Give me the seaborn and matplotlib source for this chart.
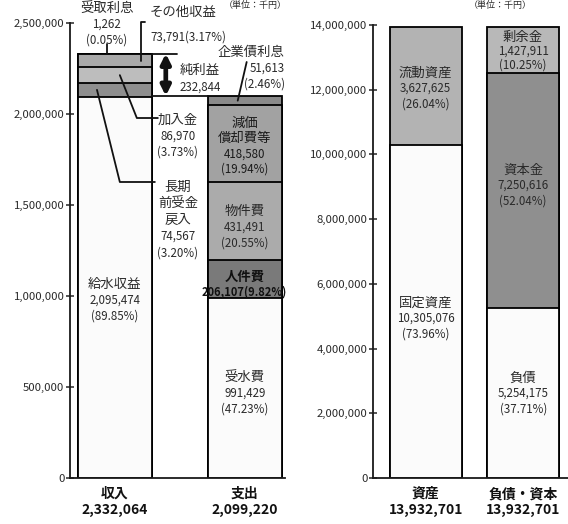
import matplotlib
matplotlib.use("Agg")
import matplotlib.pyplot as plt
from matplotlib.ticker import FuncFormatter
import seaborn as sns
import pandas as pd

sns.set_theme(style="white")
plt.rcParams["font.family"] = ["Noto Sans CJK JP", "DejaVu Sans"]

# 収益的収支（単位：千円）
flow_cats = ["収入", "支出"]
income_items = ["給水収益", "長期前受金戻入", "加入金", "その他収益", "受取利息"]
income_values = [2095474, 74567, 86970, 73791, 1262]
income_pcts = [89.85, 3.20, 3.73, 3.17, 0.05]

expense_items = ["受水費", "人件費", "物件費", "減価償却費等", "企業債利息"]
expense_values = [991429, 206107, 431491, 418580, 51613]
expense_pcts = [47.23, 9.82, 20.55, 19.94, 2.46]

# 貸借対照表（単位：千円）
stock_cats = ["資産", "負債・資本"]
asset_items = ["固定資産", "流動資産"]
asset_values = [10305076, 3627625]
asset_pcts = [73.96, 26.04]

liab_items = ["負債", "資本金", "剰余金"]
liab_values = [5254175, 7250616, 1427911]
liab_pcts = [37.71, 52.04, 10.25]
stock_totals = [13932701, 13932701]

flow_ticks = [0, 500000, 1000000, 1500000, 2000000, 2500000]
stock_ticks = [0, 2000000, 4000000, 6000000, 8000000, 10000000, 12000000, 14000000]

FILL = {
    "給水収益": "#fbfbfb", "長期前受金戻入": "#8e8e8e", "加入金": "#bdbdbd",
    "その他収益": "#a9a9a9", "受取利息": "#b5b5b5",
    "受水費": "#fbfbfb", "人件費": "#7a7a7a", "物件費": "#ababab",
    "減価償却費等": "#a2a2a2", "企業債利息": "#8a8a8a",
    "固定資産": "#fbfbfb", "流動資産": "#b3b3b3",
    "負債": "#fbfbfb", "資本金": "#8f8f8f", "剰余金": "#b8b8b8",
}
INK = "#2a2a2a"


def stacked(ax, cat, items, values, order, width):
    """Stack segments by overdrawing cumulative bars from the top down."""
    df = pd.DataFrame({"区分": cat, "項目": items, "金額": values})
    df["累計"] = df["金額"].cumsum()
    df["下端"] = df["累計"] - df["金額"]
    df["中央"] = df["下端"] + df["金額"] / 2
    for _, row in df.iloc[::-1].iterrows():
        sns.barplot(x=[row["区分"]], y=[row["累計"]], order=order,
                    color=FILL[row["項目"]], saturation=1, width=width,
                    edgecolor="black", linewidth=1.3, errorbar=None, ax=ax)
    return df.set_index("項目")


def block(ax, x, y, lines, sizes, step=11.6, color=INK, weight="normal"):
    n = len(lines)
    for i, (s, fs) in enumerate(zip(lines, sizes)):
        ax.annotate(s, (x, y), xytext=(0, -(i - (n - 1) / 2) * step),
                    textcoords="offset points", ha="center", va="center",
                    fontsize=fs, color=color, fontweight=weight,
                    annotation_clip=False)


def style_axis(ax, ticks, ymax, xlim, cats, totals):
    ax.set_ylim(0, ymax)
    ax.set_xlim(*xlim)
    ax.set_yticks(ticks)
    ax.yaxis.set_major_formatter(FuncFormatter(lambda v, p: f"{v:,.0f}"))
    ax.tick_params(axis="y", direction="inout", length=6, width=1.1,
                   labelsize=8.2, pad=1, labelcolor=INK, left=True)
    ax.set_xticks(range(len(cats)))
    ax.set_xticklabels([f"{c}\n{t:,}" for c, t in zip(cats, totals)],
                       fontsize=10, fontweight="bold", linespacing=1.15)
    ax.tick_params(axis="x", length=0, pad=6.5, labelcolor="#111111")
    ax.set_xlabel("")
    ax.set_ylabel("")
    for side in ("top", "right"):
        ax.spines[side].set_visible(False)
    for side in ("left", "bottom"):
        ax.spines[side].set_color("#1a1a1a")
        ax.spines[side].set_linewidth(1.3)
    ax.set_facecolor("white")


fig = plt.figure(figsize=(5.68, 5.24), dpi=100)
fig.patch.set_facecolor("white")

# ---------------- 収益的収支 ----------------
ax1 = fig.add_axes([0.1232, 0.0878, 0.3785, 0.8683])
w1 = 0.57
inc = stacked(ax1, flow_cats[0], income_items, income_values, flow_cats, w1)
exp = stacked(ax1, flow_cats[1], expense_items, expense_values, flow_cats, w1)
inc_total = sum(income_values)
exp_total = sum(expense_values)
style_axis(ax1, flow_ticks, 2500000, (-0.346, 1.31), flow_cats,
           [inc_total, exp_total])

name_fs, num_fs = 9.6, 8.3
p_inc = dict(zip(income_items, income_pcts))
p_exp = dict(zip(expense_items, expense_pcts))

# inside labels
block(ax1, 0, 978000, ["給水収益", f"{income_values[0]:,}", f"({p_inc['給水収益']:.2f}%)"],
      [name_fs, num_fs, num_fs])
block(ax1, 1, 467000, ["受水費", f"{expense_values[0]:,}", f"({p_exp['受水費']:.2f}%)"],
      [name_fs, num_fs, num_fs])
block(ax1, 1, 1063000, ["人件費", f"{expense_values[1]:,}({p_exp['人件費']:.2f}%)"],
      [name_fs, 8.0], step=11.0, color="#111111", weight="bold")
block(ax1, 1, 1379000, ["物件費", f"{expense_values[2]:,}", f"({p_exp['物件費']:.2f}%)"],
      [name_fs, num_fs, num_fs])
block(ax1, 1, 1824000, ["減価", "償却費等", f"{expense_values[3]:,}", f"({p_exp['減価償却費等']:.2f}%)"],
      [name_fs, name_fs, num_fs, num_fs], step=11.0, color="#1a1a1a")

lk = dict(color="#111111", lw=1.3, clip_on=False)

# 受取利息
block(ax1, -0.062, 2494500, ["受取利息", f"{income_values[4]:,}", f"({p_inc['受取利息']:.2f}%)"],
      [name_fs, num_fs, num_fs])
ax1.plot([-0.062, -0.062], [2385000, inc_total], **lk)

# その他収益
ax1.text(0.27, 2560000, "その他収益", fontsize=name_fs, color=INK, va="center", ha="left")
ax1.text(0.27, 2423000, f"{income_values[3]:,}({p_inc['その他収益']:.2f}%)",
         fontsize=num_fs, color=INK, va="center", ha="left")
ax1.plot([0.235, 0.2, 0.2], [2505500, 2505500, inc.loc["その他収益", "中央"]], **lk)

# 純利益
profit = inc_total - exp_total
ax1.plot([w1 / 2, 0.48], [inc_total, inc_total], **lk)
ax1.plot([w1 / 2, 1 - w1 / 2], [exp_total, exp_total], **lk)
ax1.annotate("", xy=(0.392, exp_total), xytext=(0.392, inc_total),
             arrowprops=dict(arrowstyle="<|-|>", lw=3.4, color="#111111",
                             mutation_scale=14, shrinkA=0, shrinkB=0),
             annotation_clip=False)
ax1.text(0.5, 2241800, "純利益", fontsize=name_fs, color=INK, va="center", ha="left")
ax1.text(0.5, 2148000, f"{profit:,}", fontsize=num_fs, color=INK, va="center", ha="left")

# 企業債利息
ax1.text(1.046, 2340700, "企業債利息", fontsize=name_fs, color=INK, va="center", ha="center")
ax1.text(1.17, 2252700, f"{expense_values[4]:,}", fontsize=num_fs, color=INK, va="center", ha="center")
ax1.text(1.154, 2164800, f"({p_exp['企業債利息']:.2f}%)", fontsize=num_fs, color=INK,
         va="center", ha="center")
ax1.plot([1.015, 0.946], [2285700, exp.loc["企業債利息", "中央"]], **lk)

# 加入金
block(ax1, 0.485, 1879000, ["加入金", f"{income_values[2]:,}", f"({p_inc['加入金']:.2f}%)"],
      [name_fs, num_fs, num_fs])
ax1.plot([0.331, 0.169, 0.038], [1978000, 1978000, inc.loc["加入金", "中央"]], **lk)

# 長期前受金戻入
block(ax1, 0.485, 1417600, ["長期", "前受金", "戻入", f"{income_values[1]:,}",
                            f"({p_inc['長期前受金戻入']:.2f}%)"],
      [name_fs, name_fs, name_fs, num_fs, num_fs], step=11.9)
ax1.plot([0.308, 0.038, -0.138], [1626400, 1626400, inc.loc["長期前受金戻入", "中央"]], **lk)

# ---------------- 貸借対照表 ----------------
ax2 = fig.add_axes([0.6567, 0.0878, 0.3433, 0.8645])
w2 = 0.74
ast = stacked(ax2, stock_cats[0], asset_items, asset_values, stock_cats, w2)
lia = stacked(ax2, stock_cats[1], liab_items, liab_values, stock_cats, w2)
style_axis(ax2, stock_ticks, 14000000, (-0.54, 1.46), stock_cats, stock_totals)

for ax_, x, y, name, val, pct, st in [
    (ax2, 0, 12053000, "流動資産", asset_values[1], asset_pcts[1], 11.2),
    (ax2, 0, 4945000, "固定資産", asset_values[0], asset_pcts[0], 11.2),
    (ax2, 1, 13196000, "剰余金", liab_values[2], liab_pcts[2], 10.4),
    (ax2, 1, 9055000, "資本金", liab_values[1], liab_pcts[1], 11.2),
    (ax2, 1, 2627000, "負債", liab_values[0], liab_pcts[0], 11.2),
]:
    block(ax_, x, y, [name, f"{val:,}", f"({pct:.2f}%)"], [name_fs, num_fs, num_fs],
          step=st)

# 単位表示
fig.text(0.45, 0.999, "（単位：千円）", fontsize=6.5, color=INK, ha="center", va="top")
fig.text(0.88, 0.999, "（単位：千円）", fontsize=6.5, color=INK, ha="center", va="top")

fig.savefig("out.png", dpi=100, facecolor="white")
